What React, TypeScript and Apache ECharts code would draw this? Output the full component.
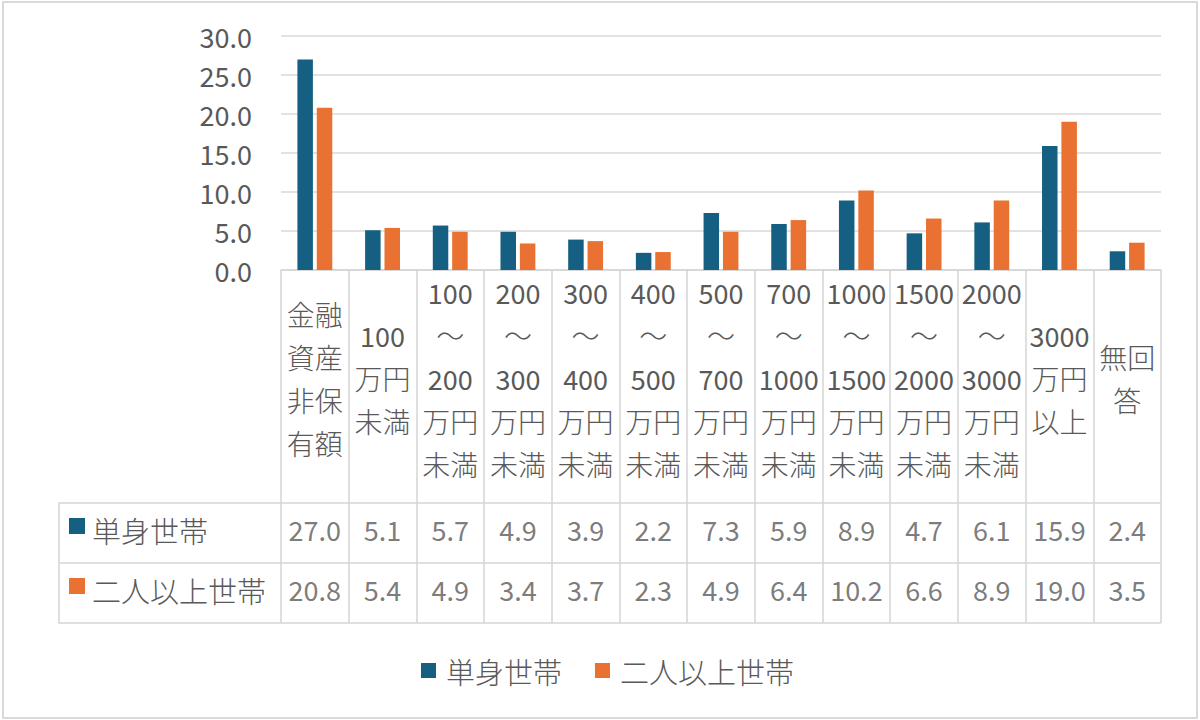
import React, { useEffect, useRef } from "react";
import * as echarts from "echarts";

const categories = [
  "金融\n資産\n非保\n有額",
  "100\n万円\n未満",
  "100\n～\n200\n万円\n未満",
  "200\n～\n300\n万円\n未満",
  "300\n～\n400\n万円\n未満",
  "400\n～\n500\n万円\n未満",
  "500\n～\n700\n万円\n未満",
  "700\n～\n1000\n万円\n未満",
  "1000\n～\n1500\n万円\n未満",
  "1500\n～\n2000\n万円\n未満",
  "2000\n～\n3000\n万円\n未満",
  "3000\n万円\n以上",
  "無回\n答",
];
const seriesNames = ["単身世帯", "二人以上世帯"];
const single = [27.0, 5.1, 5.7, 4.9, 3.9, 2.2, 7.3, 5.9, 8.9, 4.7, 6.1, 15.9, 2.4];
const multi = [20.8, 5.4, 4.9, 3.4, 3.7, 2.3, 4.9, 6.4, 10.2, 6.6, 8.9, 19.0, 3.5];
const yTicks = { min: 0, max: 30, interval: 5 };

const COLORS = ["#156082", "#E97132"];
const TEXT = "#595959";
const LINE = "#D5D5D5";
const FONT = "'Noto Sans CJK JP', 'Noto Sans', sans-serif";
const FS = 27;
const FS_CJK = 29;

export default function App() {
  const ref = useRef<HTMLDivElement>(null);
  useEffect(() => {
    if (!ref.current) return;
    const chart = echarts.init(ref.current, undefined, { renderer: "svg" });
    const lineStyle = { color: LINE, width: 1.5 };
    const num = { color: TEXT, fontFamily: FONT, fontWeight: 400 };
    const cjk = { color: TEXT, fontFamily: FONT, fontWeight: 300 };
    const option: any = {
      animation: false,
      textStyle: { fontFamily: FONT, color: TEXT },
      grid: [
        { left: 281, right: 39, top: 36, height: 234 },
        { left: 281, right: 39, top: 503, height: 120 },
      ],
      legend: {
        data: seriesNames,
        left: 416,
        top: 651,
        itemWidth: 15,
        itemHeight: 15,
        itemGap: 33,
        icon: "rect",
        textStyle: { fontSize: FS_CJK, ...cjk, padding: [0, 0, 0, 5] },
      },
      xAxis: [
        {
          type: "category",
          gridIndex: 0,
          data: categories,
          axisLine: { show: true, lineStyle },
          axisTick: { show: true, length: 233, interval: 0, lineStyle },
          axisLabel: {
            interval: 0,
            fontSize: FS,
            lineHeight: 43,
            margin: 108,
            verticalAlign: "middle",
            ...num,
            formatter: (v: string) =>
              v
                .split("\n")
                .map((s) => (/^[0-9]+$/.test(s) ? `{d|${s}}` : `{c|${s}}`))
                .join("\n"),
            rich: {
              d: { fontSize: FS, lineHeight: 43, ...num },
              c: { fontSize: 28, lineHeight: 43, ...cjk },
            },
          },
          splitLine: { show: false },
        },
        {
          type: "category",
          gridIndex: 1,
          data: categories,
          axisLine: { show: false },
          axisTick: { show: false },
          axisLabel: { show: false },
          splitLine: { show: true, interval: 0, lineStyle },
        },
      ],
      yAxis: [
        {
          type: "value",
          gridIndex: 0,
          min: yTicks.min,
          max: yTicks.max,
          interval: yTicks.interval,
          axisLine: { show: false },
          axisTick: { show: false },
          axisLabel: {
            fontSize: FS,
            margin: 29,
            ...num,
            formatter: (v: number) => v.toFixed(1),
          },
          splitLine: { show: true, lineStyle: { color: "#D9D9D9", width: 1.5 } },
        },
        {
          type: "category",
          gridIndex: 1,
          data: seriesNames,
          inverse: true,
          axisLine: { show: false },
          axisTick: { show: true, length: 222, interval: 0, lineStyle },
          splitLine: { show: true, interval: 0, lineStyle },
          axisLabel: {
            align: "left",
            margin: 212,
            formatter: (v: string) => (v === seriesNames[0] ? `{a|}{g|}{t|${v}}` : `{b|}{g|}{t|${v}}`),
            rich: {
              a: { width: 16, height: 16, backgroundColor: COLORS[0], verticalAlign: "top" },
              b: { width: 16, height: 16, backgroundColor: COLORS[1], verticalAlign: "top" },
              g: { width: 7, height: 16 },
              t: { fontSize: FS_CJK, ...cjk, lineHeight: 30, padding: [0, 0, 6, 0] },
            },
          },
        },
        {
          type: "category",
          gridIndex: 1,
          data: seriesNames,
          inverse: true,
          position: "left",
          offset: 222,
          axisLine: { show: true, lineStyle },
          axisTick: { show: false },
          axisLabel: { show: false },
          splitLine: { show: false },
        },
      ],
      series: [
        {
          name: seriesNames[0],
          type: "bar",
          xAxisIndex: 0,
          yAxisIndex: 0,
          data: single,
          barWidth: 15.5,
          barGap: "25%",
          itemStyle: { color: COLORS[0] },
        },
        {
          name: seriesNames[1],
          type: "bar",
          xAxisIndex: 0,
          yAxisIndex: 0,
          data: multi,
          barWidth: 15.5,
          barGap: "25%",
          itemStyle: { color: COLORS[1] },
        },
        ...[single, multi].map((arr, row) => ({
          type: "scatter",
          xAxisIndex: 1,
          yAxisIndex: 1,
          silent: true,
          symbol: "rect",
          symbolSize: 1,
          itemStyle: { color: "rgba(0,0,0,0)" },
          data: arr.map((v, i) => [i, row, v]),
          label: {
            show: true,
            position: "inside",
            offset: [0, -4],
            fontSize: FS,
            ...num,
            formatter: (p: any) => Number(p.value[2]).toFixed(1),
          },
        })),
      ],
    };
    chart.setOption(option);
    return () => chart.dispose();
  }, []);
  return (
    <div style={{ position: "fixed", left: 0, top: 0, width: 1200, height: 720, background: "#fff" }}>
      <div ref={ref} style={{ position: "absolute", left: 0, top: 0, width: 1200, height: 720 }} />
      <div
        style={{
          position: "absolute",
          left: 2,
          top: 1,
          width: 1196,
          height: 718,
          boxSizing: "border-box",
          border: "2px solid #D9D9D9",
          pointerEvents: "none",
        }}
      />
    </div>
  );
}
